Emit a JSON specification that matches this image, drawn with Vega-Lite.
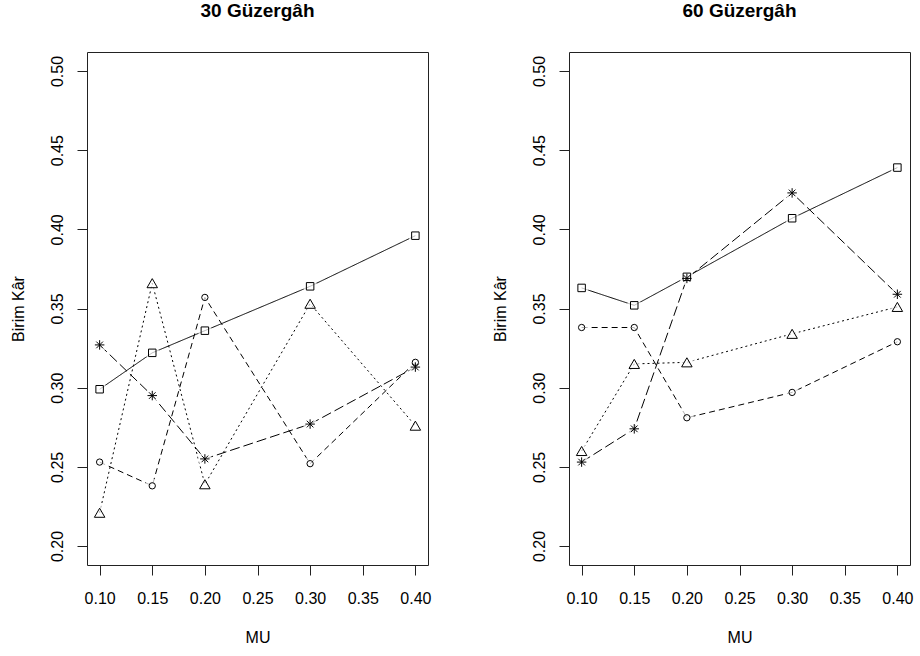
{
  "$schema": "https://vega.github.io/schema/vega-lite/v6.json",
  "autosize": {"type": "none"},
  "padding": {"left": 87, "top": 52, "right": 833, "bottom": 604},
  "background": "white",
  "bounds": "flush",
  "spacing": 141,
  "config": {
    "font": "Liberation Sans",
    "view": {"stroke": "#222", "strokeWidth": 1},
    "axis": {"grid": false, "domain": false, "tickColor": "#222", "tickSize": 10, "labelColor": "#000", "labelFontSize": 16, "titleFontSize": 16, "titleFontWeight": "normal", "titleColor": "#000"},
    "title": {"fontSize": 19, "fontWeight": "bold", "color": "#000", "anchor": "middle", "baseline": "alphabetic", "offset": 31, "frame": "group"}
  },
  "datasets": {
    "d": [
      {"panel": "30", "method": "KM", "mu": 0.10, "value": 0.299},
      {"panel": "30", "method": "KM", "mu": 0.15, "value": 0.322},
      {"panel": "30", "method": "KM", "mu": 0.20, "value": 0.336},
      {"panel": "30", "method": "KM", "mu": 0.30, "value": 0.364},
      {"panel": "30", "method": "KM", "mu": 0.40, "value": 0.396},
      {"panel": "30", "method": "GRD", "mu": 0.10, "value": 0.253},
      {"panel": "30", "method": "GRD", "mu": 0.15, "value": 0.238},
      {"panel": "30", "method": "GRD", "mu": 0.20, "value": 0.357},
      {"panel": "30", "method": "GRD", "mu": 0.30, "value": 0.252},
      {"panel": "30", "method": "GRD", "mu": 0.40, "value": 0.316},
      {"panel": "30", "method": "SQR", "mu": 0.10, "value": 0.221},
      {"panel": "30", "method": "SQR", "mu": 0.15, "value": 0.366},
      {"panel": "30", "method": "SQR", "mu": 0.20, "value": 0.239},
      {"panel": "30", "method": "SQR", "mu": 0.30, "value": 0.353},
      {"panel": "30", "method": "SQR", "mu": 0.40, "value": 0.276},
      {"panel": "30", "method": "A-SQR", "mu": 0.10, "value": 0.327},
      {"panel": "30", "method": "A-SQR", "mu": 0.15, "value": 0.295},
      {"panel": "30", "method": "A-SQR", "mu": 0.20, "value": 0.255},
      {"panel": "30", "method": "A-SQR", "mu": 0.30, "value": 0.277},
      {"panel": "30", "method": "A-SQR", "mu": 0.40, "value": 0.313},
      {"panel": "60", "method": "KM", "mu": 0.10, "value": 0.363},
      {"panel": "60", "method": "KM", "mu": 0.15, "value": 0.352},
      {"panel": "60", "method": "KM", "mu": 0.20, "value": 0.370},
      {"panel": "60", "method": "KM", "mu": 0.30, "value": 0.407},
      {"panel": "60", "method": "KM", "mu": 0.40, "value": 0.439},
      {"panel": "60", "method": "GRD", "mu": 0.10, "value": 0.338},
      {"panel": "60", "method": "GRD", "mu": 0.15, "value": 0.338},
      {"panel": "60", "method": "GRD", "mu": 0.20, "value": 0.281},
      {"panel": "60", "method": "GRD", "mu": 0.30, "value": 0.297},
      {"panel": "60", "method": "GRD", "mu": 0.40, "value": 0.329},
      {"panel": "60", "method": "SQR", "mu": 0.10, "value": 0.260},
      {"panel": "60", "method": "SQR", "mu": 0.15, "value": 0.315},
      {"panel": "60", "method": "SQR", "mu": 0.20, "value": 0.316},
      {"panel": "60", "method": "SQR", "mu": 0.30, "value": 0.334},
      {"panel": "60", "method": "SQR", "mu": 0.40, "value": 0.351},
      {"panel": "60", "method": "A-SQR", "mu": 0.10, "value": 0.253},
      {"panel": "60", "method": "A-SQR", "mu": 0.15, "value": 0.274},
      {"panel": "60", "method": "A-SQR", "mu": 0.20, "value": 0.369},
      {"panel": "60", "method": "A-SQR", "mu": 0.30, "value": 0.423},
      {"panel": "60", "method": "A-SQR", "mu": 0.40, "value": 0.359}
    ]
  },
  "resolve": {
    "scale": {"shape": "independent", "strokeDash": "independent", "fillOpacity": "independent"},
    "legend": {"shape": "independent", "fillOpacity": "independent"}
  },
  "hconcat": [
    {
      "title": "30 Güzergâh",
      "width": 341,
      "height": 513,
      "data": {"name": "d"},
      "transform": [{"filter": "datum.panel === '30'"}],
      "encoding": {
        "x": {"field": "mu", "type": "quantitative", "title": "MU",
          "scale": {"domain": [0.088, 0.412], "nice": false, "zero": false},
          "axis": {"values": [0.10, 0.15, 0.20, 0.25, 0.30, 0.35, 0.40], "format": ".2f", "labelBaseline": "alphabetic", "labelPadding": 28, "labelFlush": false, "titleY": 77, "titleBaseline": "alphabetic"}},
        "y": {"field": "value", "type": "quantitative", "title": "Birim Kâr",
          "scale": {"domain": [0.188, 0.512], "nice": false, "zero": false},
          "axis": {"values": [0.20, 0.25, 0.30, 0.35, 0.40, 0.45, 0.50], "format": ".2f", "labelAngle": 270, "labelAlign": "center", "labelBaseline": "alphabetic", "labelPadding": 15, "labelFlush": false, "titleX": -64, "titleY": 256.5, "titleAngle": 270, "titleAlign": "center", "titleBaseline": "alphabetic"}}
      },
      "layer": [
        {
          "mark": {"type": "line", "color": "#000", "strokeWidth": 1},
          "encoding": {
            "strokeDash": {"field": "method", "type": "nominal", "legend": null,
              "scale": {"domain": ["A-SQR", "KM", "GRD", "SQR"], "range": [[10, 4], [1, 0], [6, 4], [2, 3]]}},
            "order": {"field": "mu"}
          }
        },
        {
          "mark": {"type": "point", "filled": true, "color": "white", "size": 200, "shape": "circle"},
          "encoding": {
            "fillOpacity": {"field": "method", "type": "ordinal",
              "scale": {"domain": ["KM", "GRD", "SQR", "A-SQR"], "range": [1, 1]},
              "legend": {
                "orient": "none", "legendX": 12, "legendY": 18,
                "title": "Yöntem", "titleFontSize": 10, "titleFontWeight": "normal", "titleColor": "#000", "titleAnchor": "middle", "titlePadding": 9,
                "labelFontSize": 10, "labelColor": "#000", "symbolSize": 36, "symbolOffset": 2, "labelOffset": 19,
                "labelExpr": "datum.label + '\u00a0\u00a0\u00a0\u00a0'",
                "strokeColor": "#000", "fillColor": "white", "padding": 8, "rowPadding": 4,
                "encode": {
                  "symbols": {
                    "shape": {"value": {"expr": "datum.value === 'KM' ? 'M-4,0H-0.8M0.8,0H4M-0.8,-0.8H0.8V0.8H-0.8Z' : datum.value === 'GRD' ? 'M-4,0H-2.7M-1.9,0H-0.9M0.9,0H1.9M2.7,0H4M-0.5,0A0.5,0.5 0 1 0 0.5,0A0.5,0.5 0 1 0 -0.5,0' : datum.value === 'SQR' ? 'M-4,0H-3.6M-2.8,0H-2.4M-1.6,0H-1.2M1.2,0H1.6M2.4,0H2.8M3.6,0H4M0,-0.9L0.9,0.7H-0.9Z' : 'M-4,0H-1.2M1.2,0H2.6M3.4,0H4M-1,0H1M0,-1V1M-0.7,-0.7L0.7,0.7M-0.7,0.7L0.7,-0.7'"}},
                    "size": {"value": 36},
                    "stroke": {"value": "#000"},
                    "fill": {"value": "transparent"},
                    "strokeWidth": {"value": 1},
                    "opacity": {"value": 1}
                  }
                }
              }
            }
          }
        },
        {
          "mark": {"type": "point", "filled": false, "color": "#000", "strokeWidth": 1, "opacity": 1},
          "encoding": {
            "shape": {"field": "method", "type": "nominal", "legend": null,
              "scale": {"domain": ["A-SQR", "KM", "GRD", "SQR"], "range": ["M-1,0H1M0,-1V1M-0.7,-0.7L0.7,0.7M-0.7,0.7L0.7,-0.7", "square", "circle", "triangle-up"]}},
            "size": {"condition": [
              {"test": "datum.method === 'GRD'", "value": 40},
              {"test": "datum.method === 'SQR'", "value": 110},
              {"test": "datum.method === 'A-SQR'", "value": 90}
            ], "value": 56}
          }
        }
      ]
    },
    {
      "title": "60 Güzergâh",
      "width": 341,
      "height": 513,
      "data": {"name": "d"},
      "transform": [{"filter": "datum.panel === '60'"}],
      "encoding": {
        "x": {"field": "mu", "type": "quantitative", "title": "MU",
          "scale": {"domain": [0.088, 0.412], "nice": false, "zero": false},
          "axis": {"values": [0.10, 0.15, 0.20, 0.25, 0.30, 0.35, 0.40], "format": ".2f", "labelBaseline": "alphabetic", "labelPadding": 28, "labelFlush": false, "titleY": 77, "titleBaseline": "alphabetic"}},
        "y": {"field": "value", "type": "quantitative", "title": "Birim Kâr",
          "scale": {"domain": [0.188, 0.512], "nice": false, "zero": false},
          "axis": {"values": [0.20, 0.25, 0.30, 0.35, 0.40, 0.45, 0.50], "format": ".2f", "labelAngle": 270, "labelAlign": "center", "labelBaseline": "alphabetic", "labelPadding": 15, "labelFlush": false, "titleX": -64, "titleY": 256.5, "titleAngle": 270, "titleAlign": "center", "titleBaseline": "alphabetic"}}
      },
      "layer": [
        {
          "mark": {"type": "line", "color": "#000", "strokeWidth": 1},
          "encoding": {
            "strokeDash": {"field": "method", "type": "nominal", "legend": null,
              "scale": {"domain": ["A-SQR", "KM", "GRD", "SQR"], "range": [[10, 4], [1, 0], [6, 4], [2, 3]]}},
            "order": {"field": "mu"}
          }
        },
        {
          "mark": {"type": "point", "filled": true, "color": "white", "size": 200, "shape": "circle"},
          "encoding": {
            "fillOpacity": {"field": "method", "type": "ordinal",
              "scale": {"domain": ["KM", "GRD", "SQR", "A-SQR"], "range": [1, 1]},
              "legend": {
                "orient": "none", "legendX": 13, "legendY": 18,
                "title": "Yöntem", "titleFontSize": 10, "titleFontWeight": "normal", "titleColor": "#000", "titleAnchor": "middle", "titlePadding": 9,
                "labelFontSize": 10, "labelColor": "#000", "symbolSize": 36, "symbolOffset": 2, "labelOffset": 19,
                "labelExpr": "datum.label + '\u00a0\u00a0\u00a0\u00a0'",
                "strokeColor": "#000", "fillColor": "white", "padding": 8, "rowPadding": 4,
                "encode": {
                  "symbols": {
                    "shape": {"value": {"expr": "datum.value === 'KM' ? 'M-4,0H-0.8M0.8,0H4M-0.8,-0.8H0.8V0.8H-0.8Z' : datum.value === 'GRD' ? 'M-4,0H-2.7M-1.9,0H-0.9M0.9,0H1.9M2.7,0H4M-0.5,0A0.5,0.5 0 1 0 0.5,0A0.5,0.5 0 1 0 -0.5,0' : datum.value === 'SQR' ? 'M-4,0H-3.6M-2.8,0H-2.4M-1.6,0H-1.2M1.2,0H1.6M2.4,0H2.8M3.6,0H4M0,-0.9L0.9,0.7H-0.9Z' : 'M-4,0H-1.2M1.2,0H2.6M3.4,0H4M-1,0H1M0,-1V1M-0.7,-0.7L0.7,0.7M-0.7,0.7L0.7,-0.7'"}},
                    "size": {"value": 36},
                    "stroke": {"value": "#000"},
                    "fill": {"value": "transparent"},
                    "strokeWidth": {"value": 1},
                    "opacity": {"value": 1}
                  }
                }
              }
            }
          }
        },
        {
          "mark": {"type": "point", "filled": false, "color": "#000", "strokeWidth": 1, "opacity": 1},
          "encoding": {
            "shape": {"field": "method", "type": "nominal", "legend": null,
              "scale": {"domain": ["A-SQR", "KM", "GRD", "SQR"], "range": ["M-1,0H1M0,-1V1M-0.7,-0.7L0.7,0.7M-0.7,0.7L0.7,-0.7", "square", "circle", "triangle-up"]}},
            "size": {"condition": [
              {"test": "datum.method === 'GRD'", "value": 40},
              {"test": "datum.method === 'SQR'", "value": 110},
              {"test": "datum.method === 'A-SQR'", "value": 90}
            ], "value": 56}
          }
        }
      ]
    }
  ]
}
